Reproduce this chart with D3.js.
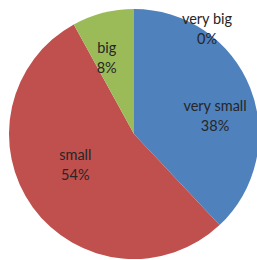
<!DOCTYPE html>
<html>
<head>
<meta charset="utf-8">
<script src="https://cdn.jsdelivr.net/npm/d3@7"></script>
<style>
  body { margin: 0; background: #fff; }
  svg { display: block; }
</style>
</head>
<body>
<svg id="chart" width="257" height="260"></svg>
<script>
// slice data, clockwise from 12 o'clock
const categories = ['very small', 'small', 'big', 'very big'];
const values = [38, 54, 8, 0];
const colors = ['#4F81BD', '#C0504D', '#9BBB59', '#8064A2'];
// nudge of each label away from the arc centroid (Excel best-fit placement)
const labelNudge = [[9, 10], [4, -15], [-8, -2], [73, -28]];

const svg = d3.select('#chart');
const cx = 134, cy = 134, radius = 125;

const g = svg.append('g').attr('transform', `translate(${cx},${cy})`);

const pie = d3.pie().sort(null).value(d => d.value);
const arc = d3.arc().innerRadius(0).outerRadius(radius);
const labelArc = d3.arc().innerRadius(radius * 0.62).outerRadius(radius * 0.62);

const data = categories.map((c, i) => ({ name: c, value: values[i], color: colors[i], nudge: labelNudge[i] }));
const arcs = pie(data);

g.selectAll('path')
  .data(arcs)
  .enter()
  .append('path')
  .attr('d', arc)
  .attr('fill', d => d.data.color);

// labels: category on first line, percentage on second
const total = d3.sum(values);
const labels = g.selectAll('text.lbl')
  .data(arcs)
  .enter()
  .append('text')
  .attr('class', 'lbl')
  .attr('text-anchor', 'middle')
  .attr('font-family', 'Lato, "Open Sans", sans-serif')
  .attr('font-size', 14.5)
  .attr('fill', '#262626')
  .attr('transform', d => {
    const [x, y] = labelArc.centroid(d);
    return `translate(${x + d.data.nudge[0]},${y + d.data.nudge[1]})`;
  });

labels.append('tspan')
  .attr('x', 0)
  .attr('dy', '-0.3em')
  .text(d => d.data.name);

labels.append('tspan')
  .attr('x', 0)
  .attr('dy', 20)
  .text(d => Math.round(d.data.value / total * 100) + '%');
</script>
</body>
</html>
